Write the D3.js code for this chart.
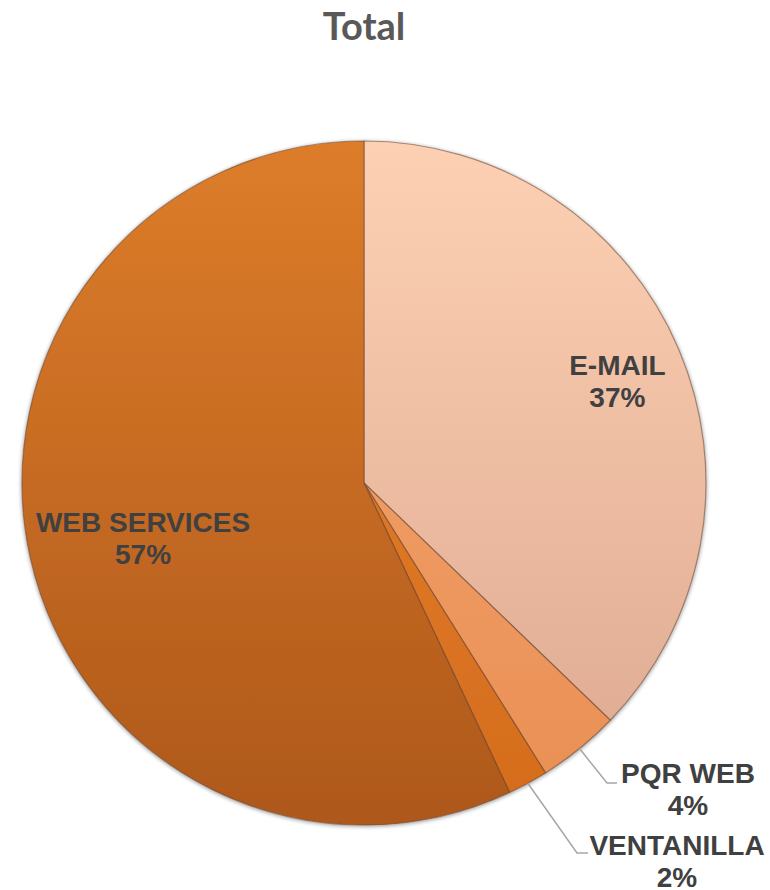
<!DOCTYPE html>
<html>
<head>
<meta charset="utf-8">
<script src="https://cdn.jsdelivr.net/npm/d3@7"></script>
<style>
  body { margin: 0; background: #fff; }
</style>
</head>
<body>
<div id="container"></div>
<script>
let w = 770;
let h = 890;

// data (share of total, %)
let categories = ["E-MAIL", "PQR WEB", "VENTANILLA", "WEB SERVICES"];
let values = [37.2, 3.9, 1.9, 57.0];
let title = "Total";

// colours: top and bottom of each vertical gradient
let topColors = ["#fdd0b3", "#f5a66e", "#e8842e", "#dd7d2a"];
let bottomColors = ["#dca890", "#e98f55", "#d56c1d", "#ae581b"];

let cx = 364, cy = 483, radius = 342;

let viz = d3.select("#container")
  .append("svg")
    .attr("width", w)
    .attr("height", h)
    .style("background-color", "white");

let defs = viz.append("defs");
categories.forEach(function(c, i){
  // gradient runs over the whole pie, top to bottom (group coords)
  let g = defs.append("linearGradient")
    .attr("id", "grad" + i)
    .attr("gradientUnits", "userSpaceOnUse")
    .attr("x1", 0).attr("y1", -radius)
    .attr("x2", 0).attr("y2", radius);
  g.append("stop").attr("offset", "0%").attr("stop-color", topColors[i]);
  g.append("stop").attr("offset", "100%").attr("stop-color", bottomColors[i]);
});

// soft edge shadow
let shadow = defs.append("filter").attr("id", "shadow")
  .attr("x", "-10%").attr("y", "-10%").attr("width", "120%").attr("height", "120%");
shadow.append("feGaussianBlur").attr("in", "SourceAlpha").attr("stdDeviation", 2);
shadow.append("feOffset").attr("dx", 0).attr("dy", 1).attr("result", "b");
shadow.append("feComponentTransfer").append("feFuncA").attr("type", "linear").attr("slope", 0.45);
let merge = shadow.append("feMerge");
merge.append("feMergeNode");
merge.append("feMergeNode").attr("in", "SourceGraphic");

// title
viz.append("text")
  .text(title)
  .attr("x", 364)
  .attr("y", 40)
  .attr("text-anchor", "middle")
  .style("font-family", "Lato, 'Open Sans', sans-serif")
  .style("font-weight", "bold")
  .style("font-size", "38px")
  .attr("fill", "#595959");

let pie = d3.pie().sort(null).value(function(d){ return d.value; });
let data = categories.map(function(c, i){ return { name: c, value: values[i], idx: i }; });
let arcs = pie(data);

let arc = d3.arc().innerRadius(0).outerRadius(radius);

let pieGroup = viz.append("g")
  .attr("transform", "translate(" + cx + "," + cy + ")");

pieGroup.append("g").attr("filter", "url(#shadow)")
  .selectAll("path").data(arcs).enter()
  .append("path")
    .attr("d", arc)
    .attr("fill", function(d){ return "url(#grad" + d.data.idx + ")"; })
    .attr("stroke", "#6a4632")
    .attr("stroke-opacity", 0.55)
    .attr("stroke-width", 1.2)
    .attr("stroke-linejoin", "round");

// label placement: inside ones by radius factor, outside ones with a leader
let labelLayout = [
  { inside: true, r: 0.805, dy: 0 },
  { inside: false, lx: 688, ly: 783, elbow: [607, 783], endX: 617 },
  { inside: false, lx: 677, ly: 855, elbow: [577, 853], endX: 588 },
  { inside: true, r: 0.662, dy: 0 }
];

let fontStyle = function(sel){
  sel.style("font-family", "'Liberation Sans', Arial, sans-serif")
    .style("font-weight", "bold")
    .style("font-size", "28px")
    .attr("fill", "#404040")
    .attr("text-anchor", "middle");
};

arcs.forEach(function(d, i){
  let lay = labelLayout[i];
  let mid = (d.startAngle + d.endAngle) / 2;
  let pct = Math.round(d.data.value) + "%";
  let x, y;
  if (lay.inside) {
    x = cx + Math.sin(mid) * radius * lay.r;
    y = cy - Math.cos(mid) * radius * lay.r + lay.dy;
  } else {
    x = lay.lx;
    y = lay.ly;
    let sx = cx + Math.sin(mid) * radius;
    let sy = cy - Math.cos(mid) * radius;
    viz.append("polyline")
      .attr("points", [[sx, sy], lay.elbow, [lay.endX, lay.elbow[1]]].map(function(p){ return p.join(","); }).join(" "))
      .attr("fill", "none")
      .attr("stroke", "#a6a6a6")
      .attr("stroke-width", 1.5);
  }
  let t = viz.append("text").call(fontStyle);
  t.append("tspan").attr("x", x).attr("y", y).text(d.data.name);
  t.append("tspan").attr("x", x).attr("y", y + 32).text(pct);
});
</script>
</body>
</html>
